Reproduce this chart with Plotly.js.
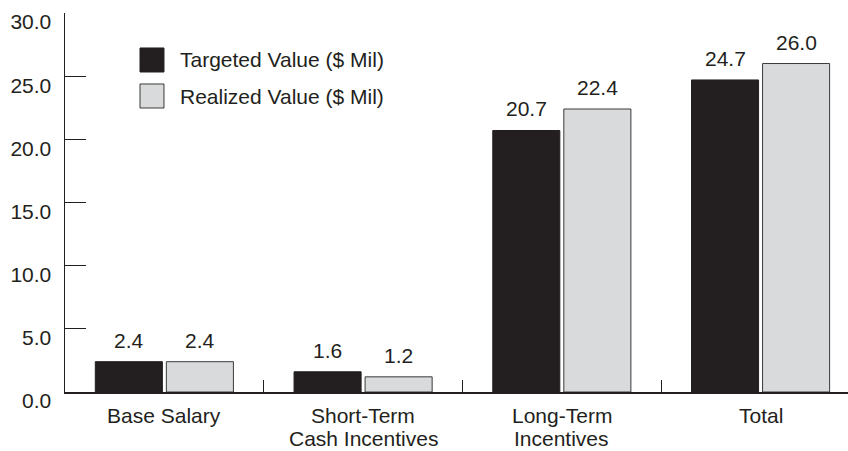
<!DOCTYPE html>
<html>
<head>
<meta charset="utf-8">
<script src="https://cdn.plot.ly/plotly-3.0.1.min.js"></script>
<style>
  html, body { margin: 0; padding: 0; background: #ffffff; }
  #chart { width: 848px; height: 451px; }
</style>
</head>
<body>
<div id="chart"></div>
<script>
// ---- Data ----
const categories = ['Base Salary', 'Short-Term<br>Cash Incentives', 'Long-Term<br>Incentives', 'Total'];
const targetedValues = [2.4, 1.6, 20.7, 24.7];
const realizedValues = [2.4, 1.2, 22.4, 26.0];
const seriesNames = ['Targeted Value ($ Mil)', 'Realized Value ($ Mil)'];
const yTickValues = [0, 5, 10, 15, 20, 25, 30];
const yTickLabels = ['0.0', '5.0', '10.0', '15.0', '20.0', '25.0', '30.0'];

// ---- Styles ----
const INK = '#231f20';
const DARK = '#231f20';
const LIGHT = '#d9dadb';
const FONT = 'Liberation Sans, Arial, Helvetica, sans-serif';
const FS = 21;
const BARGAP = 0.285;
const slotOffset = (1 - BARGAP) / 4; // centre of each bar within a group
const LINE_STEP = 23;

const traces = [
  {
    type: 'bar', name: seriesNames[0], x: categories, y: targetedValues,
    marker: { color: DARK, line: { color: INK, width: 1 } },
    hoverinfo: 'skip'
  },
  {
    type: 'bar', name: seriesNames[1], x: categories, y: realizedValues,
    marker: { color: LIGHT, line: { color: '#3a3a3a', width: 1 } },
    hoverinfo: 'skip'
  }
];

const annotations = [];

// value labels above bars
[targetedValues, realizedValues].forEach((vals, s) => {
  vals.forEach((v, i) => {
    annotations.push({
      xref: 'x', yref: 'y',
      x: i + (s === 0 ? -slotOffset : slotOffset), y: v,
      text: v.toFixed(1), showarrow: false,
      xanchor: 'center', yanchor: 'bottom', yshift: 8,
      font: { family: FONT, size: FS, color: INK }
    });
  });
});

// category labels (tighter line spacing than Plotly tick labels allow)
categories.forEach((c, i) => {
  c.split('<br>').forEach((line, j) => {
    annotations.push({
      xref: 'x', yref: 'paper', x: i, y: 0,
      text: line, showarrow: false,
      xanchor: 'center', yanchor: 'middle', yshift: -LINE_STEP * (j + 1),
      font: { family: FONT, size: FS, color: INK }
    });
  });
});

// legend (drawn as shapes + text)
const legendRows = [
  { name: seriesNames[0], fill: DARK, line: INK, y0: 0.8443, y1: 0.9077, ty: 0.876 },
  { name: seriesNames[1], fill: LIGHT, line: '#3a3a3a', y0: 0.7493, y1: 0.8127, ty: 0.781 }
];
const shapes = [];
legendRows.forEach(r => {
  shapes.push({
    type: 'rect', xref: 'paper', yref: 'paper',
    x0: 0.0958, x1: 0.1264, y0: r.y0, y1: r.y1,
    fillcolor: r.fill, line: { color: r.line, width: 1 }
  });
  annotations.push({
    xref: 'paper', yref: 'paper', x: 0.1443, y: r.ty,
    xanchor: 'left', yanchor: 'middle', showarrow: false,
    text: r.name, font: { family: FONT, size: FS, color: INK }
  });
});

const layout = {
  width: 848, height: 451,
  margin: { l: 65, r: 0, t: 13, b: 59 },
  paper_bgcolor: '#ffffff', plot_bgcolor: '#ffffff',
  font: { family: FONT, size: FS, color: INK },
  showlegend: false,
  barmode: 'group', bargap: BARGAP, bargroupgap: 0.056,
  xaxis: {
    type: 'category', range: [-0.5, 3.44],
    showline: true, linecolor: INK, linewidth: 1.5,
    ticks: 'inside', tickson: 'boundaries', ticklen: 12, tickwidth: 1.2, tickcolor: INK,
    showgrid: false, zeroline: false, showticklabels: false
  },
  yaxis: {
    range: [0, 30], tickvals: yTickValues, ticktext: yTickLabels,
    showline: true, linecolor: INK, linewidth: 1.5,
    ticks: 'inside', ticklen: 21, tickwidth: 1.2, tickcolor: INK,
    showgrid: false, zeroline: false,
    tickfont: { family: FONT, size: FS, color: INK },
    ticklabelstandoff: 8, ticklabelshift: 9
  },
  annotations: annotations,
  shapes: shapes
};

Plotly.newPlot('chart', traces, layout, { displayModeBar: false, staticPlot: true });
</script>
</body>
</html>
